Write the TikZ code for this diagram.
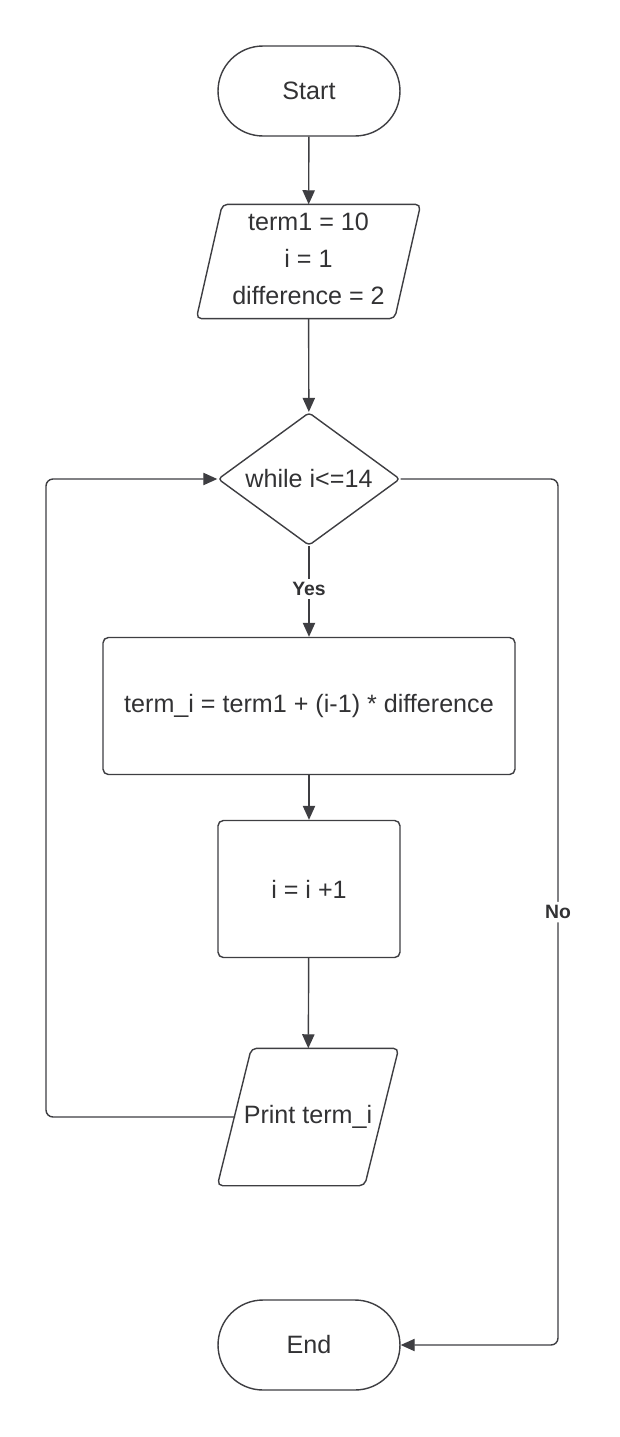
\documentclass[tikz,border=0pt]{standalone}
\usepackage{fontspec}
\setmainfont{Liberation Sans}
\usetikzlibrary{arrows.meta, positioning, shapes.geometric, shapes.misc}
\definecolor{fcLine}{RGB}{62,62,66}
\definecolor{fcText}{RGB}{50,50,52}

% slanted outline round an io node: #1 node name, #2 slant
\newcommand{\ioshape}[2]{%
  \draw[draw=fcLine, line width=0.8pt, rounded corners=3pt]
    ([xshift=#2]#1.north west) -- (#1.north east) -- ([xshift=-#2]#1.south east)
    -- (#1.south west) -- cycle;}

\begin{document}
\begin{tikzpicture}[x=0.02cm, y=-0.02cm,
    base/.style={draw=fcLine, line width=0.8pt, text=fcText, font=\fontsize{14.3}{21}\selectfont, align=center, inner sep=0pt},
    terminal/.style={base, rounded rectangle, minimum width=3.64cm, minimum height=1.8cm},
    io/.style={base, draw=none, rectangle},
    process/.style={base, rectangle, rounded corners=3pt, minimum height=2.74cm},
    decision/.style={base, diamond, aspect=1.37, minimum width=3.64cm, minimum height=2.66cm, rounded corners=2pt},
    flow/.style={draw=fcLine, line width=0.8pt, -{Triangle[length=8pt, width=7pt]}},
    lbl/.style={fill=white, text=fcText, font=\fontsize{11}{13}\selectfont\bfseries, inner sep=2pt}]
  \useasboundingbox (0,0) rectangle (619,1437);

  % nodes
  \node[terminal] (start) at (309,91) {Start};
  \node[io, minimum width=4.46cm, minimum height=2.26cm] (init) at (308.5,261.5) {};
  \ioshape{init}{0.52cm}
  \node[text=fcText, font=\fontsize{14.3}{21}\selectfont, align=center, inner sep=0pt] (initTxt) at (308.5,259) {term1 = 10\\ i = 1\\ difference = 2};
  \node[decision] (cond) at (309,479) {while i<=14};
  \node[process, minimum width=8.24cm] (calc) at (309,706) {term\_i = term1 + (i-1) * difference};
  \node[process, minimum width=3.64cm] (incr) at (309,889) {i = i +1};
  \node[io, minimum width=3.6cm, minimum height=2.72cm] (print) at (308,1117) {Print term\_i};
  \ioshape{print}{0.68cm}
  \node[terminal] (stop) at (309,1345) {End};

  % corners of the two side lines
  \coordinate (loopL) at (46,479);
  \coordinate (noR) at (558,479);
  \coordinate (printL) at (235,1117);

  % main line
  \draw[flow] (start) -- (init);
  \draw[flow] (init) -- (cond);
  \draw[flow] (cond.south) -- node[lbl, pos=0.47] {Yes} (calc.north);
  \draw[flow] (calc) -- (incr);
  \draw[flow] (incr) -- (print);

  % back to the test, and the way out
  \draw[flow, rounded corners=4pt] (printL) -| (loopL) -- (cond.west);
  \draw[flow, rounded corners=4pt] (cond.east) -- (noR) |- node[lbl, pos=0.25] {No} (stop.east);
\end{tikzpicture}
\end{document}
